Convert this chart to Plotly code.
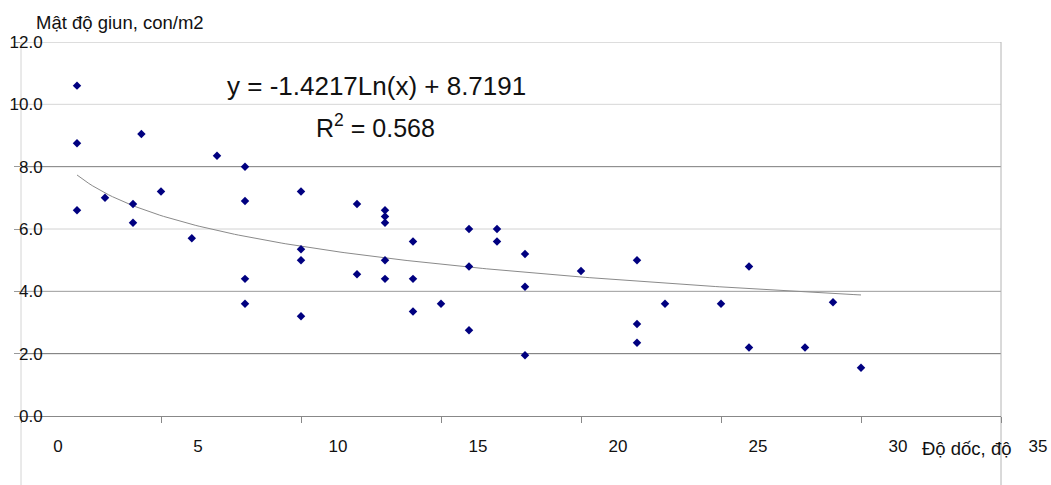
import numpy as np
import plotly.graph_objects as go

# Slope (degrees) and earthworm density (individuals per m2)
slope_deg = [2, 2, 2, 3, 4, 4, 4.3, 5, 6.1, 7,
             8, 8, 8, 8, 10, 10, 10, 10, 12, 12,
             13, 13, 13, 13, 13, 14, 14, 14, 15, 16,
             16, 16, 17, 17, 18, 18, 18, 20, 22, 22,
             22, 23, 25, 26, 26, 28, 29, 30]
density = [10.6, 8.75, 6.6, 7.0, 6.8, 6.2, 9.05, 7.2, 5.7, 8.35,
           8.0, 6.9, 4.4, 3.6, 7.2, 5.35, 5.0, 3.2, 6.8, 4.55,
           6.6, 6.4, 6.2, 5.0, 4.4, 5.6, 4.4, 3.35, 3.6, 6.0,
           4.8, 2.75, 6.0, 5.6, 5.2, 4.15, 1.95, 4.65, 5.0, 2.95,
           2.35, 3.6, 3.6, 4.8, 2.2, 2.2, 3.65, 1.55]

# Logarithmic trend: y = a*ln(x) + b
trend_a = -1.4217
trend_b = 8.7191
r_squared = 0.568

x_ticks = [0, 5, 10, 15, 20, 25, 30, 35]
y_ticks = [0, 2, 4, 6, 8, 10, 12]
y_tick_text = ["0.0", "2.0", "4.0", "6.0", "8.0", "10.0", "12.0"]

FONT = "Liberation Sans, Arial, sans-serif"

tx = np.linspace(min(slope_deg), max(slope_deg), 200)
ty = trend_a * np.log(tx) + trend_b

fig = go.Figure()
fig.add_trace(go.Scatter(
    x=tx, y=ty, mode="lines",
    line=dict(color="#8a8a8a", width=1),
    hoverinfo="skip", showlegend=False,
))
fig.add_trace(go.Scatter(
    x=slope_deg, y=density, mode="markers",
    marker=dict(symbol="diamond", size=6.5, color="#000080"),
    showlegend=False,
))

# horizontal gridlines, slightly different greys as in the printed chart
grid_colors = {2: "#707070", 4: "#9c9c9c", 6: "#d2d2d2",
               8: "#7c7c7c", 10: "#d6d6d6", 12: "#bcbcbc"}
shapes = []
for lvl, col in grid_colors.items():
    shapes.append(dict(type="line", xref="paper", yref="y",
                       x0=0, x1=1, y0=lvl, y1=lvl,
                       line=dict(color=col, width=1), layer="below"))
# plot-area side borders running down past the axis
shapes.append(dict(type="line", xref="paper", yref="paper",
                   x0=0, x1=0, y0=-0.25, y1=1,
                   line=dict(color="#d4d4d4", width=1), layer="below"))
shapes.append(dict(type="line", xref="paper", yref="paper",
                   x0=1, x1=1, y0=-0.25, y1=1,
                   line=dict(color="#b4b4b4", width=1), layer="below"))

fig.update_layout(
    width=1051, height=485,
    margin=dict(l=21, r=50, t=41.5, b=68.5, autoexpand=False),
    paper_bgcolor="white", plot_bgcolor="white",
    font=dict(family=FONT, color="#111111"),
    shapes=shapes,
    xaxis=dict(
        range=[0, 35], tickvals=x_ticks, ticktext=[str(v) for v in x_ticks],
        showgrid=False, zeroline=False, automargin=False,
        showline=True, linecolor="#888888", linewidth=1,
        ticks="outside", ticklen=6, tickcolor="#888888",
        tickfont=dict(size=17, family=FONT, color="#111111"),
        ticklabelshift=37, ticklabelstandoff=9,
    ),
    yaxis=dict(
        range=[0, 12], tickvals=y_ticks, ticktext=y_tick_text,
        showgrid=False, zeroline=False, showline=False, automargin=False,
        ticks="outside", ticklen=6, tickcolor="#999999",
        tickfont=dict(size=17, family=FONT, color="#111111"),
        ticklabelstandoff=-32,
    ),
    annotations=[
        dict(text="Mật độ giun, con/m2", xref="paper", yref="paper",
             x=(34 - 21) / 980, y=1 + (41.5 - 22) / 375,
             xanchor="left", yanchor="middle", showarrow=False,
             font=dict(size=18.5, family=FONT, color="#111111")),
        dict(text="Độ dốc, độ", xref="paper", yref="paper",
             x=(920 - 21) / 980, y=-(449 - 416.5) / 375,
             xanchor="left", yanchor="middle", showarrow=False,
             font=dict(size=18.5, family=FONT, color="#111111")),
        dict(text=f"y = {trend_a}Ln(x) + {trend_b}", xref="paper", yref="paper",
             x=(225 - 21) / 980, y=(416.5 - 86) / 375,
             xanchor="left", yanchor="middle", showarrow=False,
             font=dict(size=26, family=FONT, color="#111111")),
        dict(text=f"R<sup>2</sup> = {r_squared}", xref="paper", yref="paper",
             x=(314 - 21) / 980, y=(416.5 - 126) / 375,
             xanchor="left", yanchor="middle", showarrow=False,
             font=dict(size=25, family=FONT, color="#111111")),
    ],
)

fig.write_html("out.html")
